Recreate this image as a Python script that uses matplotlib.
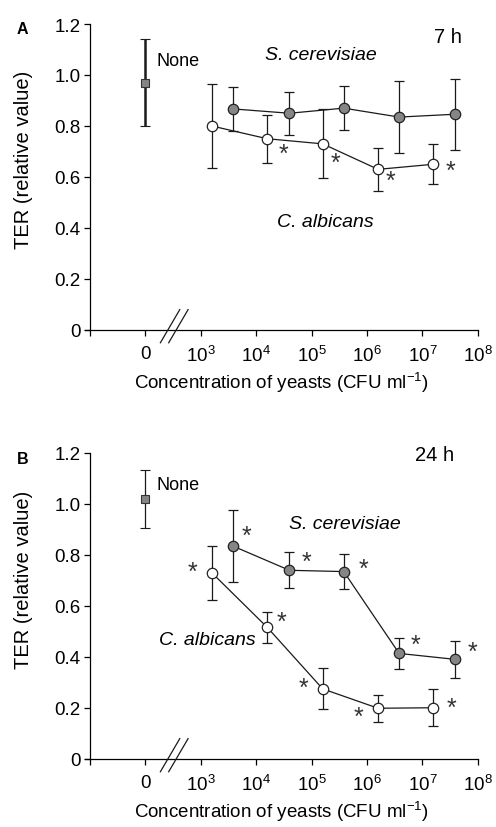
import numpy as np
import matplotlib.pyplot as plt

plt.rcParams['font.family'] = ['Liberation Sans', 'DejaVu Sans']
plt.rcParams['mathtext.fontset'] = 'custom'
plt.rcParams['mathtext.rm'] = 'Liberation Sans'
plt.rcParams['mathtext.it'] = 'Liberation Sans:italic'

# x positions are log10(CFU/ml); the "None" control sits at the "0" tick (log position 2)
none_x = 2.0
ca_x = [3.2, 4.2, 5.2, 6.2, 7.2]        # C. albicans
sc_x = [3.58, 4.6, 5.58, 6.58, 7.58]    # S. cerevisiae

# panel A (7 h)
a_none = 0.97
a_none_err = 0.17
a_ca = [0.80, 0.75, 0.73, 0.63, 0.65]
a_ca_err = [0.165, 0.095, 0.135, 0.085, 0.078]
a_sc = [0.867, 0.85, 0.87, 0.835, 0.846]
a_sc_err = [0.087, 0.085, 0.087, 0.14, 0.14]
a_ca_sig = [False, True, True, True, True]
a_sc_sig = [False, False, False, False, False]

# panel B (24 h)
b_none = 1.02
b_none_err = 0.115
b_ca = [0.73, 0.516, 0.275, 0.199, 0.201]
b_ca_err = [0.105, 0.062, 0.08, 0.053, 0.072]
b_sc = [0.835, 0.74, 0.735, 0.414, 0.391]
b_sc_err = [0.14, 0.07, 0.067, 0.06, 0.072]
b_ca_sig = [True, True, True, True, True]
b_sc_sig = [True, True, True, True, True]

xtick_pos = [1, 2, 3, 4, 5, 6, 7, 8]
xtick_lab = ['', '0', '$10^3$', '$10^4$', '$10^5$', '$10^6$', '$10^7$', '$10^8$']
ytick_pos = [0, 0.2, 0.4, 0.6, 0.8, 1.0, 1.2]
ytick_lab = ['0', '0.2', '0.4', '0.6', '0.8', '1.0', '1.2']

grey = '#858585'
ink = '#1a1a1a'


def panel(ax, none_y, none_err, ca, ca_err, sc, sc_err, ca_sig, sc_sig,
          ca_off, sc_off, none_lw, ylab_y):
    # control
    ax.errorbar([none_x], [none_y], yerr=[none_err], fmt='s', ms=6,
                mfc=grey, mec='#333333', mew=0.8, ecolor=ink,
                elinewidth=none_lw, capsize=3.5, capthick=none_lw, zorder=3)
    # S. cerevisiae
    ax.errorbar(sc_x, sc, yerr=sc_err, fmt='-o', ms=7.5, color=ink, lw=0.9,
                mfc=grey, mec='#222222', mew=0.9, ecolor=ink,
                elinewidth=0.9, capsize=3.5, capthick=0.9, zorder=3)
    # C. albicans
    ax.errorbar(ca_x, ca, yerr=ca_err, fmt='-o', ms=7.5, color=ink, lw=0.9,
                mfc='white', mec='#222222', mew=0.9, ecolor=ink,
                elinewidth=0.9, capsize=3.5, capthick=0.9, zorder=4)
    # significance stars
    for x, y, s, off in zip(ca_x, ca, ca_sig, ca_off):
        if s:
            ax.annotate('*', (x, y), xytext=off, textcoords='offset points',
                        ha='center', va='center', fontsize=18, color='#333333')
    for x, y, s, off in zip(sc_x, sc, sc_sig, sc_off):
        if s:
            ax.annotate('*', (x, y), xytext=off, textcoords='offset points',
                        ha='center', va='center', fontsize=18, color='#333333')

    ax.set_xlim(0.9, 8)
    ax.set_ylim(0, 1.2)
    ax.spines['top'].set_visible(False)
    ax.spines['right'].set_visible(False)
    ax.spines['left'].set_position(('data', 1))
    ax.spines['left'].set_linewidth(0.9)
    ax.spines['bottom'].set_linewidth(0.9)
    ax.set_xticks(xtick_pos)
    ax.set_xticklabels(xtick_lab, fontsize=13.5)
    ax.set_yticks(ytick_pos)
    ax.set_yticklabels(ytick_lab, fontsize=13.5)
    ax.tick_params(direction='out', length=4, width=0.9, pad=3)
    ax.tick_params(axis='x', pad=7)
    ax.set_ylabel('TER (relative value)', fontsize=14.5)
    ax.set_xlabel('Concentration of yeasts (CFU ml$^{\\mathregular{-1}}$)',
                  fontsize=13.5, labelpad=3)
    # axis break marks
    for x0 in (2.27, 2.42):
        ax.plot([x0, x0 + 0.35], [-0.05, 0.08], color=ink, lw=0.9,
                clip_on=False, zorder=5)
    ax.yaxis.set_label_coords(-0.131, ylab_y)


fig = plt.figure(figsize=(4.96, 8.28), dpi=100)
axA = fig.add_axes([84.5 / 496, 1 - 331 / 828, 393.3 / 496, 306 / 828])
axB = fig.add_axes([84.5 / 496, 1 - 760 / 828, 393.3 / 496, 306 / 828])

panel(axA, a_none, a_none_err, a_ca, a_ca_err, a_sc, a_sc_err,
      a_ca_sig, a_sc_sig,
      ca_off=[(0, 0), (12, -11), (9, -14), (9, -8), (12, -5)],
      sc_off=[(0, 0)] * 5, none_lw=1.8, ylab_y=0.559)
panel(axB, b_none, b_none_err, b_ca, b_ca_err, b_sc, b_sc_err,
      b_ca_sig, b_sc_sig,
      ca_off=[(-14, 1), (10, 4), (-14, 1), (-14, -6), (13, 0)],
      sc_off=[(10, 7), (12, 6), (14, 2), (12, 6), (13, 5)], none_lw=0.9,
      ylab_y=0.588)

axA.text(2.2, 1.055, 'None', fontsize=13, ha='left', va='center')
axA.text(5.17, 1.08, 'S. cerevisiae', fontsize=14, style='italic',
         ha='center', va='center')
axA.text(5.24, 0.427, 'C. albicans', fontsize=14, style='italic',
         ha='center', va='center')
axA.text(7.72, 1.15, '7 h', fontsize=14.5, ha='right', va='center')
fig.text(17 / 496, 1 - 30 / 828, 'A', fontsize=11.5, fontweight='bold',
         ha='left', va='center')

axB.text(2.2, 1.075, 'None', fontsize=13, ha='left', va='center')
axB.text(5.6, 0.922, 'S. cerevisiae', fontsize=14, style='italic',
         ha='center', va='center')
axB.text(3.12, 0.468, 'C. albicans', fontsize=14, style='italic',
         ha='center', va='center')
axB.text(7.22, 1.196, '24 h', fontsize=14.5, ha='center', va='center')
fig.text(17 / 496, 1 - 460 / 828, 'B', fontsize=11.5, fontweight='bold',
         ha='left', va='center')

fig.savefig('out.png', dpi=100, facecolor='white')
